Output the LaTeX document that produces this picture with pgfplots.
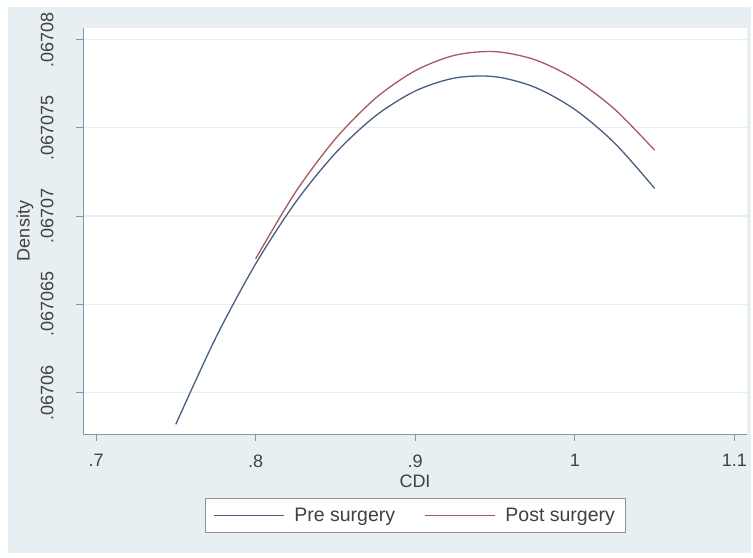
\documentclass[border=0pt]{standalone}
\usepackage{pgfplots}
\pgfplotsset{compat=1.18}
\usepackage{fontspec}
\setmainfont{Liberation Sans}

\definecolor{bggray}{RGB}{232,239,242}
\definecolor{gridgray}{RGB}{232,238,241}
\definecolor{axgray}{RGB}{138,148,156}
\definecolor{preblue}{RGB}{72,94,128}
\definecolor{postred}{RGB}{168,88,98}

% density values stored as (density - 0.067) * 10^6
\pgfplotstableread{
x     y
0.750 58.20
0.775 63.10
0.800 67.29
0.825 70.78
0.850 73.57
0.875 75.67
0.900 77.09
0.925 77.83
0.950 77.90
0.975 77.30
1.000 76.04
1.025 74.13
1.050 71.57
}\pre
\pgfplotstableread{
x     y
0.800 67.58
0.825 71.36
0.850 74.38
0.875 76.67
0.900 78.24
0.925 79.12
0.950 79.32
0.975 78.86
1.000 77.76
1.025 76.05
1.050 73.73
}\post

\begin{document}
\begin{tikzpicture}
\fill[white] (0bp,0bp) rectangle (753bp,558bp);
\fill[bggray] (8bp,5bp) rectangle (751bp,551bp);
\begin{axis}[
    at={(83bp,124bp)}, anchor=south west,
    scale only axis, width=664bp, height=406bp,
    xmin=0.69185, xmax=1.10784,
    ymin=57.65, ymax=80.66,
    axis x line*=bottom, axis y line*=left,
    axis line style={axgray, line width=1bp},
    axis background/.style={fill=white},
    xtick={0.7,0.8,0.9,1,1.1},
    xticklabels={.7,.8,.9,1,1.1},
    ytick={60,65,70,75,80},
    yticklabels={.06706,.067065,.06707,.067075,.06708},
    tick align=outside, major tick length=7bp,
    tick style={axgray, line width=1bp},
    ymajorgrids, grid style={gridgray, line width=1.2bp},
    ticklabel style={font=\fontsize{18bp}{21bp}\selectfont, text=black!75},
    xticklabel shift=10bp,
    yticklabel style={rotate=90, anchor=south},
    yticklabel shift=19bp,
    label style={font=\fontsize{18bp}{21bp}\selectfont, text=black!75},
    xlabel={CDI},
    xlabel style={at={(axis description cs:0.5,0)}, anchor=center, yshift=-47bp},
    ylabel={Density},
    ylabel style={at={(axis description cs:-0.0873,0.5)}, anchor=center},
    legend columns=2,
    legend image code/.code={\draw[#1] (0bp,0bp) -- (70bp,0bp);},
    legend style={at={(0.5,0)}, anchor=north, yshift=-64bp,
        draw=axgray, line width=0.8bp, fill=white,
        font=\fontsize{19.5bp}{22bp}\selectfont, text=black!75,
        inner xsep=8bp, inner ysep=7.5bp,
        /tikz/every odd column/.append style={column sep=8bp},
        /tikz/every even column/.append style={column sep=27bp}},
]
\addplot[preblue, line width=1.3bp, smooth] table[x=x, y=y] {\pre};
\addlegendentry{Pre surgery}
\addplot[postred, line width=1.3bp, smooth] table[x=x, y=y] {\post};
\addlegendentry{Post surgery}
\end{axis}
\end{tikzpicture}
\end{document}
